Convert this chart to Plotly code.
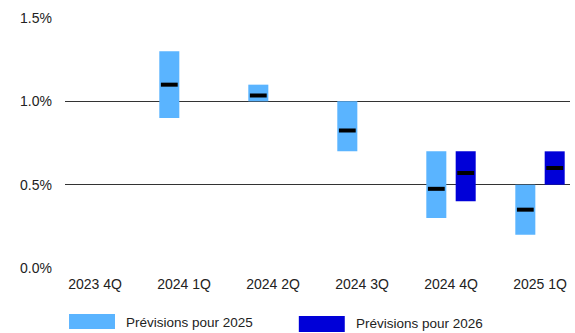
import plotly.graph_objects as go

categories = ["2023 4Q", "2024 1Q", "2024 2Q", "2024 3Q", "2024 4Q", "2025 1Q"]
# Prévisions pour 2025 (range low, high, median)
low_2025 = [None, 0.90, 1.00, 0.70, 0.30, 0.20]
high_2025 = [None, 1.30, 1.10, 1.00, 0.70, 0.50]
med_2025 = [None, 1.10, 1.035, 0.825, 0.475, 0.35]
# Prévisions pour 2026
low_2026 = [None, None, None, None, 0.40, 0.50]
high_2026 = [None, None, None, None, 0.70, 0.70]
med_2026 = [None, None, None, None, 0.57, 0.60]

y_ticks = [0.0, 0.5, 1.0, 1.5]
legend_labels = ["Prévisions pour 2025", "Prévisions pour 2026"]

LIGHT = "#5AB4FF"
DARK = "#0000D8"
OFF = 0.165
W = 0.225
FONT = "Liberation Sans, Arial, sans-serif"

fig = go.Figure()


def add_series(lows, highs, meds, offset, color):
    xs, bases, heights, mx, my = [], [], [], [], []
    for i, (lo, hi, md) in enumerate(zip(lows, highs, meds)):
        if lo is None:
            continue
        xs.append(i + offset)
        bases.append(lo)
        heights.append(hi - lo)
        mx.append(i + offset)
        my.append(md)
    fig.add_trace(go.Bar(x=xs, y=heights, base=bases, width=W,
                         marker=dict(color=color, line=dict(width=0)),
                         showlegend=False, hoverinfo="skip"))
    fig.add_trace(go.Scatter(x=mx, y=my, mode="markers",
                             marker=dict(symbol="line-ew", size=12,
                                         line=dict(color="black", width=4)),
                             showlegend=False, hoverinfo="skip"))


add_series(low_2025, high_2025, med_2025, -OFF, LIGHT)
add_series(low_2026, high_2026, med_2026, OFF, DARK)

fig.update_layout(
    width=575, height=333,
    margin=dict(l=65, r=5, t=18, b=65),
    paper_bgcolor="white", plot_bgcolor="white",
    barmode="overlay",
    font=dict(family=FONT, size=14, color="#222222"),
    xaxis=dict(range=[-0.337, 5.337], tickvals=list(range(len(categories))),
               ticktext=categories, showgrid=False, zeroline=False,
               showline=False, ticks="", ticklabelstandoff=6,
               tickfont=dict(size=14, family=FONT, color="#222222")),
    yaxis=dict(range=[0, 1.5], tickvals=y_ticks,
               ticktext=[f"{v:.1f}%" for v in y_ticks],
               showgrid=True, gridcolor="#333333", gridwidth=1.3,
               zeroline=False, showline=False, ticks="",
               ticklabelstandoff=12,
               tickfont=dict(size=14, family=FONT, color="#222222")),
)

# Legend drawn as shapes + text annotations
legend_boxes = [(0.008, 0.099, -0.184, -0.244, LIGHT), (0.463, 0.554, -0.192, -0.256, DARK)]
legend_text_pos = [(0.117, -0.216), (0.572, -0.222)]
for (x0, x1, y0, y1, c), (tx, ty), lab in zip(legend_boxes, legend_text_pos, legend_labels):
    fig.add_shape(type="rect", xref="paper", yref="paper", x0=x0, x1=x1, y0=y0, y1=y1,
                  fillcolor=c, line=dict(width=0))
    fig.add_annotation(xref="paper", yref="paper", x=tx, y=ty, text=lab,
                       showarrow=False, xanchor="left", yanchor="middle",
                       font=dict(size=13.5, family=FONT, color="#222222"))

fig.write_html("out.html")
